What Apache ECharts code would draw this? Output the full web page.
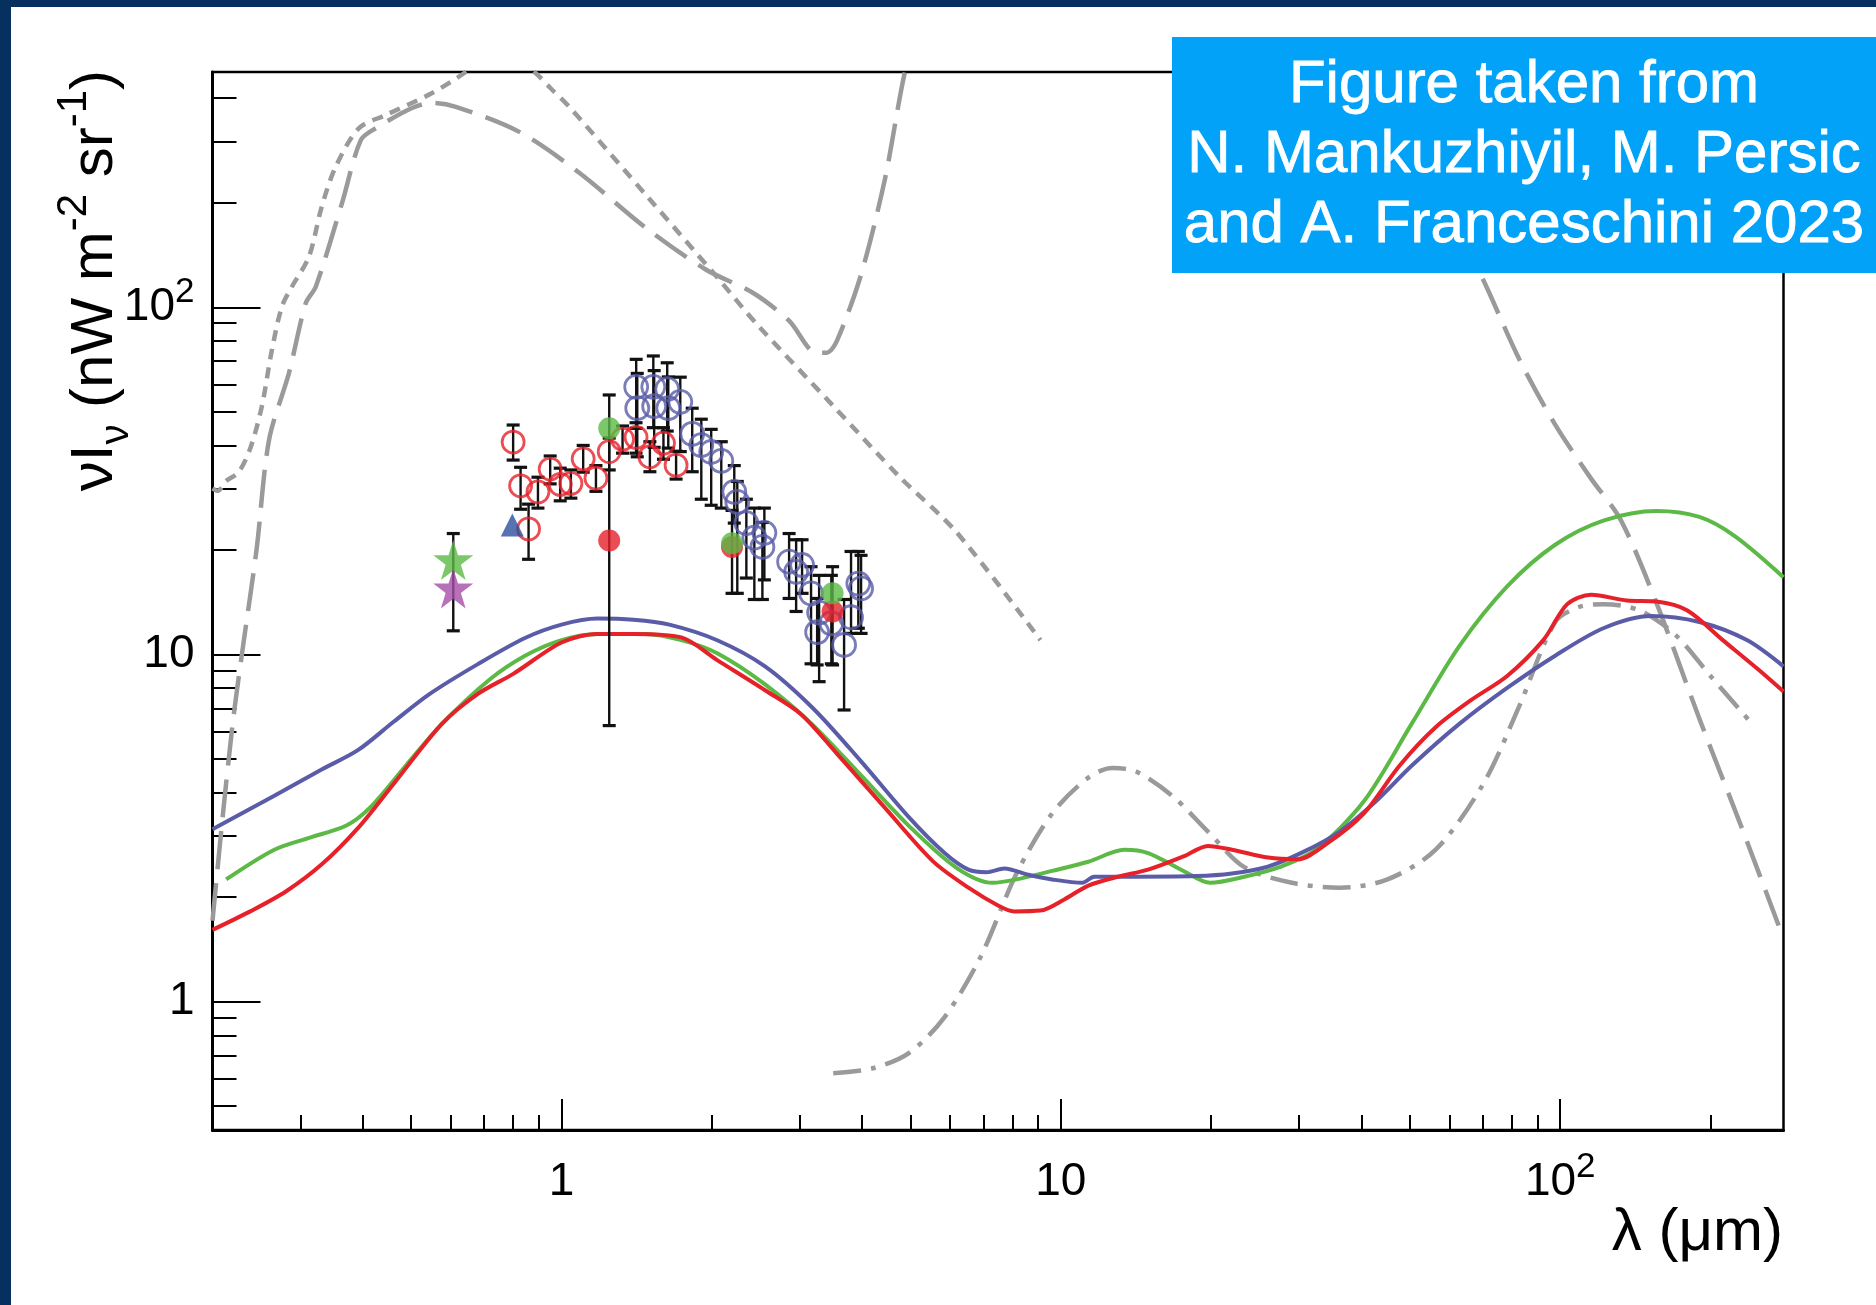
<!DOCTYPE html>
<html><head><meta charset="utf-8">
<script src="https://cdn.jsdelivr.net/npm/echarts@6/dist/echarts.min.js"></script>
<style>html,body{margin:0;padding:0;background:#fff;}#c{width:1876px;height:1305px;}</style>
</head><body><div id="c"></div>
<script>
// ---------- axis ranges / ticks ----------
const xMin = 0.2, xMax = 280, yMin = 0.427, yMax = 476;
const xMajorTicks = [1, 10, 100];
const xMinorTicks = [0.3,0.4,0.5,0.6,0.7,0.8,0.9,2,3,4,5,6,7,8,9,20,30,40,50,60,70,80,90,200];
const yMajorTicks = [1, 10, 100];
const yMinorTicks = [0.5,0.6,0.7,0.8,0.9,2,3,4,5,6,7,8,9,20,30,40,50,60,70,80,90,200,300,400];

// ---------- model curves [lambda (um), nuI_nu] ----------
const greenModel = [[0.213,2.25],[0.266,2.74],[0.3136,2.97],[0.37,3.21],[0.4134,3.62],[0.488,4.79],[0.576,6.31],[0.718,8.47],[0.847,9.93],[1.0,11.0],[1.18,11.46],[1.47,11.46],[1.737,11.0],[2.05,10.08],[2.556,8.2],[3.188,6.26],[3.976,4.49],[4.96,3.21],[6.18,2.43],[7.3,2.2],[8.15,2.25],[9.6,2.38],[11.35,2.53],[13.4,2.74],[14.95,2.68],[17.6,2.38],[19.9,2.2],[23.3,2.29],[27.4,2.44],[32.4,2.74],[40.4,3.77],[50.4,6.31],[62.8,10.57],[78.3,15.7],[97.7,20.7],[122,24.3],[156,25.9],[190,24.9],[224,21.9],[280,16.7]];
const blueModel = [[0.2,3.14],[0.266,3.92],[0.3315,4.67],[0.391,5.3],[0.4617,6.41],[0.5447,7.7],[0.68,9.38],[0.847,11.17],[1.0,12.19],[1.18,12.69],[1.393,12.59],[1.644,12.19],[2.05,10.99],[2.556,9.24],[3.188,7.0],[3.976,4.93],[4.96,3.4],[5.85,2.68],[6.53,2.4],[7.1,2.36],[7.71,2.42],[8.61,2.32],[9.6,2.25],[11.04,2.2],[11.66,2.29],[13.4,2.29],[18.65,2.3],[22.0,2.34],[25.97,2.45],[30.6,2.7],[36.2,3.09],[42.7,3.77],[50.4,4.78],[62.8,6.31],[78.3,8.01],[97.7,9.92],[122,11.9],[152,12.9],[190,12.4],[236.5,11.0],[280,9.24]];
const redModel = [[0.2,1.61],[0.238,1.82],[0.281,2.08],[0.3315,2.49],[0.391,3.16],[0.4617,4.25],[0.576,6.31],[0.68,7.7],[0.802,8.81],[1.0,10.83],[1.18,11.46],[1.393,11.46],[1.737,11.2],[2.05,9.63],[2.556,7.89],[3.017,6.73],[3.56,5.18],[4.44,3.62],[5.54,2.54],[6.53,2.13],[7.5,1.89],[8.06,1.82],[9.1,1.83],[10.16,1.97],[11.35,2.16],[13.0,2.29],[14.95,2.4],[17.6,2.62],[19.7,2.81],[22.0,2.74],[26.0,2.6],[29.8,2.57],[34.2,2.86],[40.4,3.48],[47.7,4.79],[56.3,6.17],[66.4,7.4],[78.3,8.67],[92.5,11.0],[103.3,13.96],[115.3,14.86],[136,14.3],[156,14.2],[179.4,13.4],[211.6,11.0],[250,9.02],[280,7.82]];

// ---------- gray reference curves ----------
const longDashLeft = [[0.2,1.71],[0.21,3.5],[0.22,6.5],[0.229,10],[0.245,20],[0.2596,41.5],[0.2846,64.7],[0.3075,102.8],[0.322,114.6],[0.3634,199.6],[0.3963,303],[0.4248,328],[0.502,375],[0.5506,388],[0.6143,378],[0.823,320],[1.085,244],[1.47,170],[1.94,128.7],[2.42,109.9],[2.855,91.5],[3.24,73.9],[3.4,74],[3.56,80],[3.976,123.7],[4.44,233],[4.88,481],[5.1,560]];
const longDashRight = [[40.4,559],[69,125.7],[82.8,70.8],[97.7,45.9],[115.3,32.1],[132.4,24.3],[156.2,13.96],[189.6,6.58],[230,3.22],[280,1.52]];
const dottedCurve = [[0.2,30.1],[0.205,29.6],[0.213,31.6],[0.2253,33.4],[0.238,39.2],[0.251,51.7],[0.263,75.3],[0.2754,100.4],[0.2884,114.6],[0.312,139.8],[0.331,195],[0.353,254],[0.393,328],[0.445,358],[0.5506,414],[0.643,476],[0.75,560],[0.882,476],[0.95,428],[1.036,378],[1.5,205],[2.05,122],[2.453,89.9],[3.5,52],[4.75,32.5],[6.18,22.5],[9.1,11.0]];
const dashDotCurve = [[3.5,0.622],[4.2,0.643],[4.96,0.711],[5.85,0.903],[6.9,1.343],[8.15,2.34],[9.6,3.48],[11.35,4.42],[12.67,4.71],[14.15,4.6],[16.7,3.92],[19.7,3.09],[23.3,2.44],[29,2.2],[36.2,2.13],[45.1,2.25],[56.3,2.74],[70.2,4.25],[82.8,7.1],[97.7,12.4],[109,13.7],[122,13.96],[144,13.4],[170,11.4],[200,8.67],[240,6.41]];

// ---------- measurements [lambda, value, low, high] ----------
const redOpen = [[0.800,40.9,36.3,45.8],[0.828,30.6,26.2,34.6],[0.859,23.0,18.8,27.1],[0.897,29.4,26.4,32.4],[0.949,34.2,31.0,37.3],[0.994,30.9,27.7,34.4],[1.044,31.1,28.2,34.0],[1.105,36.6,33.5,40.0],[1.172,32.2,29.5,35.0],[1.246,38.4,34.0,42.0],[1.325,41.7,38.0,45.5],[1.41,42.2,38.0,46.5],[1.503,37.1,33.6,41.0],[1.6,40.6,36.5,45.0],[1.696,35.1,32.0,38.5]];
const blueOpen = [[1.411,59.0,44.8,70.8],[1.418,51.2,37.1,64.5],[1.527,59.0,45.0,72.4],[1.533,51.9,39.5,65.7],[1.628,58.1,44.0,69.2],[1.636,51.2,39.3,63.0],[1.729,53.4,38.4,62.9],[1.827,43.2,33.6,51.2],[1.905,40.1,28.0,47.6],[1.994,38.3,26.9,44.5],[2.089,36.1,26.4,41.0],[2.218,29.4,23.9,35.0],[2.249,27.5,15.0,31.5],[2.345,23.9,16.6,28.0],[2.433,21.7,14.4,26.4],[2.548,22.4,16.4,26.4],[2.525,20.4,14.4,24.0],[2.856,18.5,14.5,22.3],[2.95,17.3,13.3,21.4],[3.032,18.1,15.0,21.4],[3.16,15.0,9.4,17.9],[3.28,13.2,8.35,16.9],[3.25,11.6,9.33,14.5],[3.47,12.3,9.4,16.9],[3.68,10.65,6.92,14.4],[3.80,12.8,11.5,19.8],[3.93,16.0,11.9,19.8],[3.98,15.5,11.5,19.3]];
const redFilled = [[1.246,21.3,6.24,55.9],[2.195,20.4,15.0,26.0],[3.49,13.3,9.33,17.9]];
const greenFilled = [[1.246,44.8],[2.195,20.9],[3.49,15.0]];
const greenStar = [[0.607,18.7]];
const purpleStar = [[0.607,15.5,11.7,22.3]];
const blueTriangle = [[0.797,23.6]];

// ---------- styling ----------
const FF = '"Liberation Sans", Arial, Helvetica, sans-serif';
const RED = '#e62129', GREEN = '#5cb946', SLATE = '#5a5ca8', GRAY = '#9a9a9a';
const STAR = 'path://M50,0 L61.8,36.2 L100,36.2 L69.1,58.6 L80.9,95.1 L50,72.7 L19.1,95.1 L30.9,58.6 L0,36.2 L38.2,36.2 Z';

const labelRich = {
  b: {fontSize: 46, lineHeight: 64, verticalAlign: 'middle', fontFamily: FF, color: '#000'},
  s: {fontSize: 35, lineHeight: 35, verticalAlign: 'top', fontFamily: FF, color: '#000'}
};
function tickFmt(v) {
  const r = Math.round(v);
  if (r === 100) return '{b|10}{s|2}';
  return '{b|' + r + '}';
}

function lineSeries(data, color, width, dash, z) {
  return {type: 'line', data: data, showSymbol: false, smooth: 0.3, z: z, silent: true,
    lineStyle: {color: color, width: width, type: dash || 'solid', cap: 'butt'}, clip: true};
}
function errSeries(data, z) {
  return {
    type: 'custom', z: z, silent: true, clip: true, data: data,
    encode: {x: 0, y: [2, 3]},
    renderItem: function (params, api) {
      const x = api.value(0);
      const p1 = api.coord([x, api.value(2)]);
      const p2 = api.coord([x, api.value(3)]);
      const c = 6.5;
      const st = {stroke: '#111', lineWidth: 2.4};
      const sc = {stroke: '#111', lineWidth: 3.2};
      return {type: 'group', children: [
        {type: 'line', shape: {x1: p1[0], y1: p1[1], x2: p2[0], y2: p2[1]}, style: st},
        {type: 'line', shape: {x1: p1[0] - c, y1: p1[1], x2: p1[0] + c, y2: p1[1]}, style: sc},
        {type: 'line', shape: {x1: p2[0] - c, y1: p2[1], x2: p2[0] + c, y2: p2[1]}, style: sc}
      ]};
    }
  };
}
function scatter(data, symbol, size, itemStyle, z) {
  return {type: 'scatter', data: data.map(d => [d[0], d[1]]), symbol: symbol, symbolSize: size,
    itemStyle: itemStyle, z: z, silent: true, clip: true};
}

const chart = echarts.init(document.getElementById('c'), null, {renderer: 'canvas'});
chart.setOption({
  animation: false,
  backgroundColor: '#ffffff',
  grid: {left: 212.5, right: 92.5, top: 72, bottom: 175, containLabel: false, outerBoundsMode: 'none',
    show: true, borderColor: '#000', borderWidth: 2.5, backgroundColor: 'transparent'},
  xAxis: [
    {type: 'log', min: xMin, max: xMax, position: 'bottom',
      axisLine: {show: true, onZero: false, lineStyle: {color: '#000', width: 3}},
      axisTick: {show: true, inside: true, length: 31, customValues: xMajorTicks, lineStyle: {color: '#000', width: 2}},
      axisLabel: {show: true, customValues: xMajorTicks, margin: 20, formatter: tickFmt, rich: labelRich, color: '#000', fontSize: 46, fontFamily: FF},
      splitLine: {show: false}},
    {type: 'log', min: xMin, max: xMax, position: 'bottom',
      axisLine: {show: false, onZero: false},
      axisTick: {show: true, inside: true, length: 15, customValues: xMinorTicks, lineStyle: {color: '#000', width: 2}},
      axisLabel: {show: false}, splitLine: {show: false}}
  ],
  yAxis: [
    {type: 'log', min: yMin, max: yMax, position: 'left',
      axisLine: {show: true, onZero: false, lineStyle: {color: '#000', width: 3}},
      axisTick: {show: true, inside: true, length: 48, customValues: yMajorTicks, lineStyle: {color: '#000', width: 2}},
      axisLabel: {show: true, customValues: yMajorTicks, margin: 18, formatter: tickFmt, rich: labelRich, color: '#000', fontSize: 46, fontFamily: FF},
      splitLine: {show: false}},
    {type: 'log', min: yMin, max: yMax, position: 'left',
      axisLine: {show: false, onZero: false},
      axisTick: {show: true, inside: true, length: 24, customValues: yMinorTicks, lineStyle: {color: '#000', width: 2}},
      axisLabel: {show: false}, splitLine: {show: false}}
  ],
  series: [
    lineSeries(longDashLeft, GRAY, 4.5, [38, 14], 2),
    lineSeries(longDashRight, GRAY, 4.5, [38, 14], 2),
    lineSeries(dottedCurve, GRAY, 4.5, [11, 8], 2),
    lineSeries(dashDotCurve, GRAY, 4.5, [28, 10, 5, 10], 2),
    lineSeries(greenModel, GREEN, 4, null, 3),
    lineSeries(blueModel, SLATE, 4, null, 3),
    lineSeries(redModel, RED, 4, null, 3),
    errSeries(redOpen, 4),
    errSeries(blueOpen, 4),
    errSeries(redFilled, 4),
    errSeries(purpleStar, 4),
    scatter(redOpen, 'circle', 22, {color: 'transparent', borderColor: RED, borderWidth: 2.8}, 5),
    scatter(blueOpen, 'circle', 23, {color: 'transparent', borderColor: SLATE, borderWidth: 2.8}, 5),
    scatter(redFilled, 'circle', 22, {color: RED}, 6),
    scatter(greenFilled, 'circle', 22, {color: GREEN}, 7),
    scatter(greenStar, STAR, 40, {color: GREEN}, 6),
    scatter(purpleStar, STAR, 40, {color: '#a54ea8'}, 7),
    scatter(blueTriangle, 'triangle', 23, {color: '#2c4f9e'}, 6)
  ],
  graphic: [
    {type: 'rect', z: 100, shape: {x: 0, y: 0, width: 1876, height: 7}, style: {fill: '#06305e'}},
    {type: 'rect', z: 100, shape: {x: 0, y: 0, width: 11, height: 1305}, style: {fill: '#06305e'}},
    {type: 'rect', z: 100, shape: {x: 1172, y: 37, width: 704, height: 236}, style: {fill: '#02a2f8'}},
    {type: 'text', z: 101, x: 1524, y: 155, style: {
      text: 'Figure taken from\nN. Mankuzhiyil, M. Persic\nand A. Franceschini 2023',
      fill: '#fff', font: '60px ' + FF, lineHeight: 70, align: 'center', verticalAlign: 'middle',
      stroke: '#fff', lineWidth: 0.8}},
    {type: 'text', z: 101, x: 1783, y: 1233, style: {
      text: 'λ (μm)', fill: '#000', font: '60px ' + FF, align: 'right', verticalAlign: 'middle'}},
    {type: 'text', z: 101, x: 95, y: 70, rotation: Math.PI / 2, style: {
      text: '{a|νI}{sb|ν}{a| (nW m}{sp|-2}{a| sr}{sp|-1}{a|)}',
      align: 'right', verticalAlign: 'middle', fill: '#000',
      rich: {
        a: {fontSize: 60, lineHeight: 84, verticalAlign: 'middle', fontFamily: FF, fill: '#000'},
        sp: {fontSize: 42, lineHeight: 42, verticalAlign: 'top', fontFamily: FF, fill: '#000'},
        sb: {fontSize: 40, lineHeight: 40, verticalAlign: 'bottom', fontFamily: FF, fill: '#000'}
      }}}
  ]
});
</script></body></html>
